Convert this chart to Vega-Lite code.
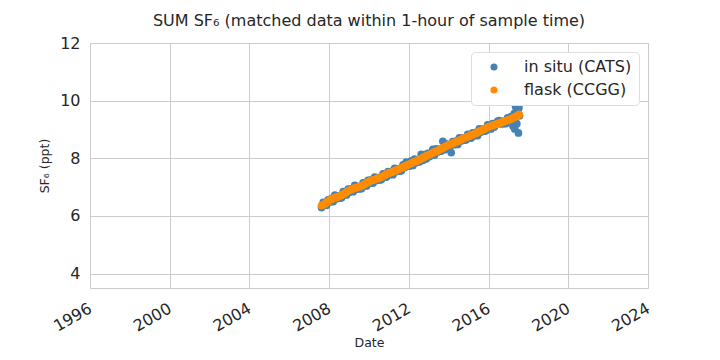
{
  "$schema": "https://vega.github.io/schema/vega-lite/v6.json",
  "width": 558,
  "height": 245,
  "autosize": {"type": "none"},
  "padding": {"left": 90, "top": 43, "right": 72, "bottom": 72},
  "background": "white",
  "title": {"text": "SUM SF₆ (matched data within 1-hour of sample time)", "font": "DejaVu Sans", "fontSize": 16, "fontWeight": "normal", "color": "#262626", "offset": 6},
  "config": {
    "view": {"stroke": "#cccccc", "strokeWidth": 1},
    "font": "DejaVu Sans",
    "axis": {"domain": false, "ticks": false, "grid": true, "gridColor": "#cccccc", "gridWidth": 1, "labelFont": "DejaVu Sans", "labelFontSize": 16, "labelColor": "#262626", "titleFont": "DejaVu Sans", "titleFontSize": 12.5, "titleFontWeight": "normal", "titleColor": "#262626"}
  },
  "data": {"values": [
    {"date": "2007-08-15", "value": 6.29, "series": "in situ (CATS)"},
    {"date": "2007-09-15", "value": 6.47, "series": "in situ (CATS)"},
    {"date": "2007-10-15", "value": 6.38, "series": "in situ (CATS)"},
    {"date": "2007-11-15", "value": 6.37, "series": "in situ (CATS)"},
    {"date": "2007-12-15", "value": 6.56, "series": "in situ (CATS)"},
    {"date": "2008-01-15", "value": 6.48, "series": "in situ (CATS)"},
    {"date": "2008-02-15", "value": 6.61, "series": "in situ (CATS)"},
    {"date": "2008-03-15", "value": 6.50, "series": "in situ (CATS)"},
    {"date": "2008-04-15", "value": 6.72, "series": "in situ (CATS)"},
    {"date": "2008-05-15", "value": 6.60, "series": "in situ (CATS)"},
    {"date": "2008-06-15", "value": 6.69, "series": "in situ (CATS)"},
    {"date": "2008-07-15", "value": 6.62, "series": "in situ (CATS)"},
    {"date": "2008-08-15", "value": 6.63, "series": "in situ (CATS)"},
    {"date": "2008-09-15", "value": 6.84, "series": "in situ (CATS)"},
    {"date": "2008-10-15", "value": 6.75, "series": "in situ (CATS)"},
    {"date": "2008-11-15", "value": 6.73, "series": "in situ (CATS)"},
    {"date": "2008-12-15", "value": 6.93, "series": "in situ (CATS)"},
    {"date": "2009-01-15", "value": 6.83, "series": "in situ (CATS)"},
    {"date": "2009-02-15", "value": 6.95, "series": "in situ (CATS)"},
    {"date": "2009-03-15", "value": 6.84, "series": "in situ (CATS)"},
    {"date": "2009-04-15", "value": 7.06, "series": "in situ (CATS)"},
    {"date": "2009-05-15", "value": 6.93, "series": "in situ (CATS)"},
    {"date": "2009-06-15", "value": 7.02, "series": "in situ (CATS)"},
    {"date": "2009-07-15", "value": 6.94, "series": "in situ (CATS)"},
    {"date": "2009-08-15", "value": 6.95, "series": "in situ (CATS)"},
    {"date": "2009-09-15", "value": 7.15, "series": "in situ (CATS)"},
    {"date": "2009-10-15", "value": 7.06, "series": "in situ (CATS)"},
    {"date": "2009-11-15", "value": 7.04, "series": "in situ (CATS)"},
    {"date": "2009-12-15", "value": 7.23, "series": "in situ (CATS)"},
    {"date": "2010-01-15", "value": 7.13, "series": "in situ (CATS)"},
    {"date": "2010-02-15", "value": 7.26, "series": "in situ (CATS)"},
    {"date": "2010-03-15", "value": 7.14, "series": "in situ (CATS)"},
    {"date": "2010-04-15", "value": 7.35, "series": "in situ (CATS)"},
    {"date": "2010-05-15", "value": 7.23, "series": "in situ (CATS)"},
    {"date": "2010-06-15", "value": 7.33, "series": "in situ (CATS)"},
    {"date": "2010-07-15", "value": 7.25, "series": "in situ (CATS)"},
    {"date": "2010-08-15", "value": 7.26, "series": "in situ (CATS)"},
    {"date": "2010-09-15", "value": 7.46, "series": "in situ (CATS)"},
    {"date": "2010-10-15", "value": 7.37, "series": "in situ (CATS)"},
    {"date": "2010-11-15", "value": 7.35, "series": "in situ (CATS)"},
    {"date": "2010-12-15", "value": 7.54, "series": "in situ (CATS)"},
    {"date": "2011-01-15", "value": 7.43, "series": "in situ (CATS)"},
    {"date": "2011-02-15", "value": 7.55, "series": "in situ (CATS)"},
    {"date": "2011-03-15", "value": 7.43, "series": "in situ (CATS)"},
    {"date": "2011-04-15", "value": 7.65, "series": "in situ (CATS)"},
    {"date": "2011-05-15", "value": 7.54, "series": "in situ (CATS)"},
    {"date": "2011-06-15", "value": 7.63, "series": "in situ (CATS)"},
    {"date": "2011-07-15", "value": 7.56, "series": "in situ (CATS)"},
    {"date": "2011-08-15", "value": 7.57, "series": "in situ (CATS)"},
    {"date": "2011-09-15", "value": 7.77, "series": "in situ (CATS)"},
    {"date": "2011-10-15", "value": 7.68, "series": "in situ (CATS)"},
    {"date": "2011-11-15", "value": 7.87, "series": "in situ (CATS)"},
    {"date": "2011-12-15", "value": 7.84, "series": "in situ (CATS)"},
    {"date": "2012-01-15", "value": 7.73, "series": "in situ (CATS)"},
    {"date": "2012-02-15", "value": 7.91, "series": "in situ (CATS)"},
    {"date": "2012-03-15", "value": 7.75, "series": "in situ (CATS)"},
    {"date": "2012-04-15", "value": 7.97, "series": "in situ (CATS)"},
    {"date": "2012-05-15", "value": 7.85, "series": "in situ (CATS)"},
    {"date": "2012-06-15", "value": 7.95, "series": "in situ (CATS)"},
    {"date": "2012-07-15", "value": 7.88, "series": "in situ (CATS)"},
    {"date": "2012-08-15", "value": 8.14, "series": "in situ (CATS)"},
    {"date": "2012-09-15", "value": 7.93, "series": "in situ (CATS)"},
    {"date": "2012-10-15", "value": 8.13, "series": "in situ (CATS)"},
    {"date": "2012-11-15", "value": 7.98, "series": "in situ (CATS)"},
    {"date": "2012-12-15", "value": 8.17, "series": "in situ (CATS)"},
    {"date": "2013-01-15", "value": 8.06, "series": "in situ (CATS)"},
    {"date": "2013-02-15", "value": 8.19, "series": "in situ (CATS)"},
    {"date": "2013-03-15", "value": 8.31, "series": "in situ (CATS)"},
    {"date": "2013-04-15", "value": 8.11, "series": "in situ (CATS)"},
    {"date": "2013-05-15", "value": 8.33, "series": "in situ (CATS)"},
    {"date": "2013-06-15", "value": 8.22, "series": "in situ (CATS)"},
    {"date": "2013-07-15", "value": 8.32, "series": "in situ (CATS)"},
    {"date": "2013-08-15", "value": 8.25, "series": "in situ (CATS)"},
    {"date": "2013-09-15", "value": 8.59, "series": "in situ (CATS)"},
    {"date": "2013-10-15", "value": 8.30, "series": "in situ (CATS)"},
    {"date": "2013-11-15", "value": 8.50, "series": "in situ (CATS)"},
    {"date": "2013-12-15", "value": 8.41, "series": "in situ (CATS)"},
    {"date": "2014-01-15", "value": 8.37, "series": "in situ (CATS)"},
    {"date": "2014-02-15", "value": 8.20, "series": "in situ (CATS)"},
    {"date": "2014-03-15", "value": 8.58, "series": "in situ (CATS)"},
    {"date": "2014-04-15", "value": 8.47, "series": "in situ (CATS)"},
    {"date": "2014-05-15", "value": 8.60, "series": "in situ (CATS)"},
    {"date": "2014-06-15", "value": 8.48, "series": "in situ (CATS)"},
    {"date": "2014-07-15", "value": 8.71, "series": "in situ (CATS)"},
    {"date": "2014-08-15", "value": 8.60, "series": "in situ (CATS)"},
    {"date": "2014-09-15", "value": 8.70, "series": "in situ (CATS)"},
    {"date": "2014-10-15", "value": 8.63, "series": "in situ (CATS)"},
    {"date": "2014-11-15", "value": 8.64, "series": "in situ (CATS)"},
    {"date": "2014-12-15", "value": 8.83, "series": "in situ (CATS)"},
    {"date": "2015-01-15", "value": 8.73, "series": "in situ (CATS)"},
    {"date": "2015-02-15", "value": 8.70, "series": "in situ (CATS)"},
    {"date": "2015-03-15", "value": 8.88, "series": "in situ (CATS)"},
    {"date": "2015-04-15", "value": 8.78, "series": "in situ (CATS)"},
    {"date": "2015-05-15", "value": 8.90, "series": "in situ (CATS)"},
    {"date": "2015-06-15", "value": 8.79, "series": "in situ (CATS)"},
    {"date": "2015-07-15", "value": 9.02, "series": "in situ (CATS)"},
    {"date": "2015-08-15", "value": 8.91, "series": "in situ (CATS)"},
    {"date": "2015-09-15", "value": 9.01, "series": "in situ (CATS)"},
    {"date": "2015-10-15", "value": 8.94, "series": "in situ (CATS)"},
    {"date": "2015-11-15", "value": 8.96, "series": "in situ (CATS)"},
    {"date": "2015-12-15", "value": 9.16, "series": "in situ (CATS)"},
    {"date": "2016-01-15", "value": 9.06, "series": "in situ (CATS)"},
    {"date": "2016-02-15", "value": 9.02, "series": "in situ (CATS)"},
    {"date": "2016-03-15", "value": 9.20, "series": "in situ (CATS)"},
    {"date": "2016-04-15", "value": 9.09, "series": "in situ (CATS)"},
    {"date": "2016-05-15", "value": 9.21, "series": "in situ (CATS)"},
    {"date": "2016-06-15", "value": 9.28, "series": "in situ (CATS)"},
    {"date": "2016-07-15", "value": 9.31, "series": "in situ (CATS)"},
    {"date": "2016-08-15", "value": 9.19, "series": "in situ (CATS)"},
    {"date": "2016-09-15", "value": 9.28, "series": "in situ (CATS)"},
    {"date": "2016-10-15", "value": 9.20, "series": "in situ (CATS)"},
    {"date": "2016-11-15", "value": 9.21, "series": "in situ (CATS)"},
    {"date": "2016-12-15", "value": 9.40, "series": "in situ (CATS)"},
    {"date": "2017-01-15", "value": 9.30, "series": "in situ (CATS)"},
    {"date": "2017-02-15", "value": 9.45, "series": "in situ (CATS)"},
    {"date": "2017-03-15", "value": 9.35, "series": "in situ (CATS)"},
    {"date": "2017-03-25", "value": 9.12, "series": "in situ (CATS)"},
    {"date": "2017-04-05", "value": 9.10, "series": "in situ (CATS)"},
    {"date": "2017-04-15", "value": 9.55, "series": "in situ (CATS)"},
    {"date": "2017-04-25", "value": 9.02, "series": "in situ (CATS)"},
    {"date": "2017-05-10", "value": 9.80, "series": "in situ (CATS)"},
    {"date": "2017-05-20", "value": 9.62, "series": "in situ (CATS)"},
    {"date": "2017-06-01", "value": 9.20, "series": "in situ (CATS)"},
    {"date": "2017-06-15", "value": 9.70, "series": "in situ (CATS)"},
    {"date": "2017-06-25", "value": 9.85, "series": "in situ (CATS)"},
    {"date": "2017-07-01", "value": 8.88, "series": "in situ (CATS)"},
    {"date": "2017-07-10", "value": 9.75, "series": "in situ (CATS)"},
    {"date": "2017-07-20", "value": 9.48, "series": "in situ (CATS)"},
    {"date": "2007-08-15", "value": 6.36, "series": "flask (CCGG)"},
    {"date": "2007-09-15", "value": 6.39, "series": "flask (CCGG)"},
    {"date": "2007-10-15", "value": 6.42, "series": "flask (CCGG)"},
    {"date": "2007-11-15", "value": 6.47, "series": "flask (CCGG)"},
    {"date": "2007-12-15", "value": 6.50, "series": "flask (CCGG)"},
    {"date": "2008-01-15", "value": 6.55, "series": "flask (CCGG)"},
    {"date": "2008-02-15", "value": 6.58, "series": "flask (CCGG)"},
    {"date": "2008-03-15", "value": 6.61, "series": "flask (CCGG)"},
    {"date": "2008-04-15", "value": 6.63, "series": "flask (CCGG)"},
    {"date": "2008-05-15", "value": 6.65, "series": "flask (CCGG)"},
    {"date": "2008-06-15", "value": 6.67, "series": "flask (CCGG)"},
    {"date": "2008-07-15", "value": 6.70, "series": "flask (CCGG)"},
    {"date": "2008-08-15", "value": 6.72, "series": "flask (CCGG)"},
    {"date": "2008-09-15", "value": 6.76, "series": "flask (CCGG)"},
    {"date": "2008-10-15", "value": 6.79, "series": "flask (CCGG)"},
    {"date": "2008-11-15", "value": 6.83, "series": "flask (CCGG)"},
    {"date": "2008-12-15", "value": 6.87, "series": "flask (CCGG)"},
    {"date": "2009-01-15", "value": 6.90, "series": "flask (CCGG)"},
    {"date": "2009-02-15", "value": 6.92, "series": "flask (CCGG)"},
    {"date": "2009-03-15", "value": 6.95, "series": "flask (CCGG)"},
    {"date": "2009-04-15", "value": 6.97, "series": "flask (CCGG)"},
    {"date": "2009-05-15", "value": 6.98, "series": "flask (CCGG)"},
    {"date": "2009-06-15", "value": 7.00, "series": "flask (CCGG)"},
    {"date": "2009-07-15", "value": 7.02, "series": "flask (CCGG)"},
    {"date": "2009-08-15", "value": 7.04, "series": "flask (CCGG)"},
    {"date": "2009-09-15", "value": 7.07, "series": "flask (CCGG)"},
    {"date": "2009-10-15", "value": 7.10, "series": "flask (CCGG)"},
    {"date": "2009-11-15", "value": 7.14, "series": "flask (CCGG)"},
    {"date": "2009-12-15", "value": 7.17, "series": "flask (CCGG)"},
    {"date": "2010-01-15", "value": 7.20, "series": "flask (CCGG)"},
    {"date": "2010-02-15", "value": 7.23, "series": "flask (CCGG)"},
    {"date": "2010-03-15", "value": 7.25, "series": "flask (CCGG)"},
    {"date": "2010-04-15", "value": 7.26, "series": "flask (CCGG)"},
    {"date": "2010-05-15", "value": 7.28, "series": "flask (CCGG)"},
    {"date": "2010-06-15", "value": 7.31, "series": "flask (CCGG)"},
    {"date": "2010-07-15", "value": 7.33, "series": "flask (CCGG)"},
    {"date": "2010-08-15", "value": 7.35, "series": "flask (CCGG)"},
    {"date": "2010-09-15", "value": 7.38, "series": "flask (CCGG)"},
    {"date": "2010-10-15", "value": 7.41, "series": "flask (CCGG)"},
    {"date": "2010-11-15", "value": 7.45, "series": "flask (CCGG)"},
    {"date": "2010-12-15", "value": 7.48, "series": "flask (CCGG)"},
    {"date": "2011-01-15", "value": 7.50, "series": "flask (CCGG)"},
    {"date": "2011-02-15", "value": 7.52, "series": "flask (CCGG)"},
    {"date": "2011-03-15", "value": 7.54, "series": "flask (CCGG)"},
    {"date": "2011-04-15", "value": 7.56, "series": "flask (CCGG)"},
    {"date": "2011-05-15", "value": 7.59, "series": "flask (CCGG)"},
    {"date": "2011-06-15", "value": 7.61, "series": "flask (CCGG)"},
    {"date": "2011-07-15", "value": 7.64, "series": "flask (CCGG)"},
    {"date": "2011-08-15", "value": 7.66, "series": "flask (CCGG)"},
    {"date": "2011-09-15", "value": 7.69, "series": "flask (CCGG)"},
    {"date": "2011-10-15", "value": 7.72, "series": "flask (CCGG)"},
    {"date": "2011-11-15", "value": 7.75, "series": "flask (CCGG)"},
    {"date": "2011-12-15", "value": 7.78, "series": "flask (CCGG)"},
    {"date": "2012-01-15", "value": 7.80, "series": "flask (CCGG)"},
    {"date": "2012-02-15", "value": 7.83, "series": "flask (CCGG)"},
    {"date": "2012-03-15", "value": 7.86, "series": "flask (CCGG)"},
    {"date": "2012-04-15", "value": 7.88, "series": "flask (CCGG)"},
    {"date": "2012-05-15", "value": 7.90, "series": "flask (CCGG)"},
    {"date": "2012-06-15", "value": 7.93, "series": "flask (CCGG)"},
    {"date": "2012-07-15", "value": 7.96, "series": "flask (CCGG)"},
    {"date": "2012-08-15", "value": 7.99, "series": "flask (CCGG)"},
    {"date": "2012-09-15", "value": 8.02, "series": "flask (CCGG)"},
    {"date": "2012-10-15", "value": 8.05, "series": "flask (CCGG)"},
    {"date": "2012-11-15", "value": 8.08, "series": "flask (CCGG)"},
    {"date": "2012-12-15", "value": 8.11, "series": "flask (CCGG)"},
    {"date": "2013-01-15", "value": 8.13, "series": "flask (CCGG)"},
    {"date": "2013-02-15", "value": 8.16, "series": "flask (CCGG)"},
    {"date": "2013-03-15", "value": 8.19, "series": "flask (CCGG)"},
    {"date": "2013-04-15", "value": 8.22, "series": "flask (CCGG)"},
    {"date": "2013-05-15", "value": 8.24, "series": "flask (CCGG)"},
    {"date": "2013-06-15", "value": 8.27, "series": "flask (CCGG)"},
    {"date": "2013-07-15", "value": 8.30, "series": "flask (CCGG)"},
    {"date": "2013-08-15", "value": 8.33, "series": "flask (CCGG)"},
    {"date": "2013-09-15", "value": 8.36, "series": "flask (CCGG)"},
    {"date": "2013-10-15", "value": 8.39, "series": "flask (CCGG)"},
    {"date": "2013-11-15", "value": 8.42, "series": "flask (CCGG)"},
    {"date": "2013-12-15", "value": 8.45, "series": "flask (CCGG)"},
    {"date": "2014-01-15", "value": 8.47, "series": "flask (CCGG)"},
    {"date": "2014-02-15", "value": 8.50, "series": "flask (CCGG)"},
    {"date": "2014-03-15", "value": 8.52, "series": "flask (CCGG)"},
    {"date": "2014-04-15", "value": 8.54, "series": "flask (CCGG)"},
    {"date": "2014-05-15", "value": 8.57, "series": "flask (CCGG)"},
    {"date": "2014-06-15", "value": 8.59, "series": "flask (CCGG)"},
    {"date": "2014-07-15", "value": 8.62, "series": "flask (CCGG)"},
    {"date": "2014-08-15", "value": 8.65, "series": "flask (CCGG)"},
    {"date": "2014-09-15", "value": 8.68, "series": "flask (CCGG)"},
    {"date": "2014-10-15", "value": 8.71, "series": "flask (CCGG)"},
    {"date": "2014-11-15", "value": 8.73, "series": "flask (CCGG)"},
    {"date": "2014-12-15", "value": 8.75, "series": "flask (CCGG)"},
    {"date": "2015-01-15", "value": 8.77, "series": "flask (CCGG)"},
    {"date": "2015-02-15", "value": 8.80, "series": "flask (CCGG)"},
    {"date": "2015-03-15", "value": 8.82, "series": "flask (CCGG)"},
    {"date": "2015-04-15", "value": 8.85, "series": "flask (CCGG)"},
    {"date": "2015-05-15", "value": 8.87, "series": "flask (CCGG)"},
    {"date": "2015-06-15", "value": 8.90, "series": "flask (CCGG)"},
    {"date": "2015-07-15", "value": 8.93, "series": "flask (CCGG)"},
    {"date": "2015-08-15", "value": 8.96, "series": "flask (CCGG)"},
    {"date": "2015-09-15", "value": 8.99, "series": "flask (CCGG)"},
    {"date": "2015-10-15", "value": 9.02, "series": "flask (CCGG)"},
    {"date": "2015-11-15", "value": 9.05, "series": "flask (CCGG)"},
    {"date": "2015-12-15", "value": 9.08, "series": "flask (CCGG)"},
    {"date": "2016-01-15", "value": 9.10, "series": "flask (CCGG)"},
    {"date": "2016-02-15", "value": 9.12, "series": "flask (CCGG)"},
    {"date": "2016-03-15", "value": 9.14, "series": "flask (CCGG)"},
    {"date": "2016-04-15", "value": 9.16, "series": "flask (CCGG)"},
    {"date": "2016-05-15", "value": 9.18, "series": "flask (CCGG)"},
    {"date": "2016-06-15", "value": 9.20, "series": "flask (CCGG)"},
    {"date": "2016-07-15", "value": 9.22, "series": "flask (CCGG)"},
    {"date": "2016-08-15", "value": 9.24, "series": "flask (CCGG)"},
    {"date": "2016-09-15", "value": 9.26, "series": "flask (CCGG)"},
    {"date": "2016-10-15", "value": 9.28, "series": "flask (CCGG)"},
    {"date": "2016-11-15", "value": 9.30, "series": "flask (CCGG)"},
    {"date": "2016-12-15", "value": 9.32, "series": "flask (CCGG)"},
    {"date": "2017-01-15", "value": 9.34, "series": "flask (CCGG)"},
    {"date": "2017-02-15", "value": 9.36, "series": "flask (CCGG)"},
    {"date": "2017-03-15", "value": 9.39, "series": "flask (CCGG)"},
    {"date": "2017-04-15", "value": 9.42, "series": "flask (CCGG)"},
    {"date": "2017-05-15", "value": 9.45, "series": "flask (CCGG)"},
    {"date": "2017-06-15", "value": 9.48, "series": "flask (CCGG)"},
    {"date": "2017-07-15", "value": 9.52, "series": "flask (CCGG)"}
  ]},
  "mark": {"type": "point", "filled": true, "opacity": 1, "size": 60, "shape": "circle"},
  "encoding": {
    "x": {"field": "date", "type": "temporal", "title": "Date",
      "scale": {"domain": [{"year": 1996, "month": 1, "date": 1}, {"year": 2024, "month": 1, "date": 1}]},
      "axis": {"values": [{"year": 1996}, {"year": 2000}, {"year": 2004}, {"year": 2008}, {"year": 2012}, {"year": 2016}, {"year": 2020}, {"year": 2024}], "format": "%Y", "labelAngle": -30, "labelAlign": "right", "labelBaseline": "top", "labelPadding": 12, "labelOffset": -4, "titlePadding": 2, "labelFlush": false, "labelOverlap": false}},
    "y": {"field": "value", "type": "quantitative", "title": "SF₆ (ppt)",
      "scale": {"domain": [3.5, 12], "nice": false, "zero": false},
      "axis": {"values": [4, 6, 8, 10, 12], "labelPadding": 10, "titlePadding": 8}},
    "color": {"field": "series", "type": "nominal", "sort": null,
      "scale": {"domain": ["in situ (CATS)", "flask (CCGG)"], "range": ["#4682b4", "#ff8c00"]},
      "legend": {"title": null, "orient": "none", "legendX": 381, "legendY": 9, "labelFontSize": 16, "labelColor": "#262626", "labelFont": "DejaVu Sans", "symbolType": "circle", "symbolSize": 50, "symbolOffset": 8, "labelOffset": 22, "rowPadding": 7, "padding": 7, "strokeColor": "#dddddd", "fillColor": "white", "cornerRadius": 4, "symbolStrokeWidth": 0}}
  }
}
